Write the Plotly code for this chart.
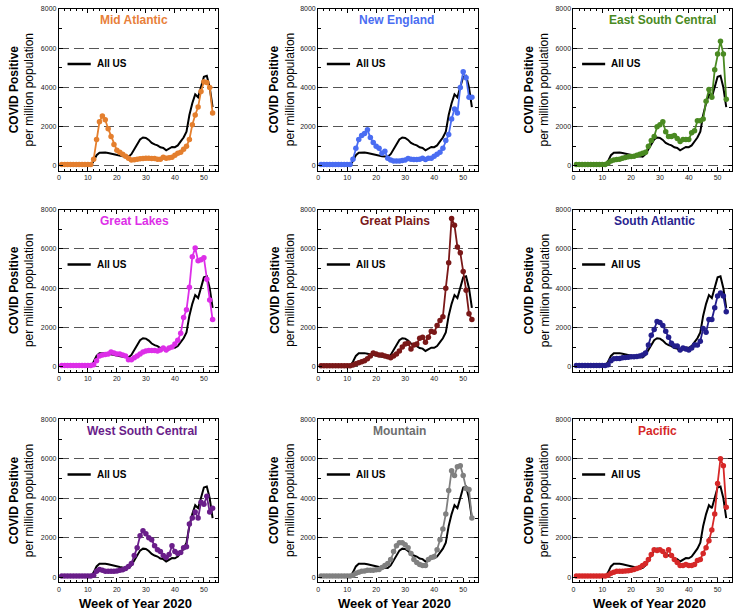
import plotly.graph_objects as go

WEEKS = list(range(1, 54))

ALL_US = [10, 10, 10, 10, 10, 10, 10, 10, 10, 10, 30, 250, 550, 680, 700, 690, 660, 620,
          580, 550, 520, 500, 490, 470, 600, 850, 1100, 1350, 1450, 1430, 1330, 1180, 1100,
          1050, 950, 920, 800, 900, 970, 960, 1050, 1250, 1450, 1750, 2600, 3200, 3650,
          3500, 4000, 4550, 4600, 4000, 3000]

MID_ATLANTIC = [80, 80, 80, 80, 80, 80, 80, 80, 80, 80, 80, 350, 1350, 2250, 2550, 2350,
                1900, 1500, 1100, 800, 700, 600, 500, 400, 300, 320, 350, 370, 380, 400, 400,
                380, 380, 340, 350, 450, 400, 420, 450, 550, 650, 700, 850, 1000, 1350, 2100,
                2600, 3000, 3800, 4290, 4250, 4000, 2700]
NEW_ENGLAND = [80, 80, 80, 80, 80, 80, 80, 80, 80, 80, 80, 350, 900, 1350, 1550, 1650, 1850,
               1450, 1200, 1000, 900, 650, 750, 400, 300, 250, 250, 250, 280, 300, 380, 350,
               330, 330, 350, 400, 330, 400, 400, 500, 600, 700, 900, 1300, 1600, 2400, 2900,
               2700, 4000, 4800, 4500, 3500, 3500]
EAST_SOUTH_CENTRAL = [80, 80, 80, 80, 80, 80, 80, 80, 80, 80, 80, 150, 250, 300, 330, 350,
                      400, 430, 470, 480, 500, 550, 600, 650, 700, 1000, 1300, 1500, 2000, 2100,
                      2250, 1750, 1500, 1500, 1550, 1400, 1250, 1350, 1350, 1350, 1700, 1800,
                      2300, 2300, 2400, 3300, 3900, 3500, 4900, 5700, 6350, 5700, 3400]
GREAT_LAKES = [60, 60, 60, 60, 60, 60, 60, 60, 60, 60, 60, 100, 300, 550, 600, 620, 650, 750,
               700, 650, 650, 600, 550, 350, 350, 450, 550, 650, 750, 800, 820, 830, 820, 800,
               850, 950, 850, 950, 1000, 1150, 1350, 1700, 2500, 2900, 4050, 5600, 6050, 5400,
               5450, 5550, 4450, 3400, 2400]
GREAT_PLAINS = [50, 50, 50, 50, 50, 50, 50, 50, 50, 50, 50, 80, 150, 200, 250, 300, 400, 550,
                700, 650, 600, 600, 550, 500, 450, 550, 650, 800, 1000, 1150, 1200, 900, 1100,
                1150, 1450, 1500, 1250, 1500, 1800, 1750, 2100, 2350, 2550, 4000, 5300, 7550,
                7200, 6100, 5800, 4850, 3900, 2700, 2400]
SOUTH_ATLANTIC = [60, 60, 60, 60, 60, 60, 60, 60, 60, 60, 60, 100, 300, 400, 420, 420, 450,
                  470, 480, 500, 500, 520, 550, 600, 700, 1100, 1600, 1900, 2300, 2250, 2100,
                  1800, 1500, 1200, 1050, 1050, 850, 950, 900, 850, 950, 1100, 1100, 1300, 1950,
                  1750, 2400, 2400, 3000, 3600, 3750, 3600, 2800]
WEST_SOUTH_CENTRAL = [60, 60, 60, 60, 60, 60, 60, 60, 60, 60, 60, 100, 300, 400, 350, 300,
                      300, 300, 300, 320, 350, 380, 450, 550, 700, 1100, 1500, 2100, 2350, 2200,
                      2000, 1900, 1600, 1400, 1300, 1100, 1000, 1150, 1600, 1300, 1200, 1250,
                      1500, 1550, 2700, 3000, 3300, 3000, 3800, 3700, 4100, 3300, 3500]
MOUNTAIN = [60, 60, 60, 60, 60, 60, 60, 60, 60, 60, 60, 100, 200, 250, 300, 320, 350, 350, 350,
            380, 400, 500, 600, 700, 900, 1300, 1600, 1750, 1750, 1650, 1500, 1200, 900, 750,
            650, 600, 600, 900, 1000, 1050, 1400, 1900, 2450, 3200, 4400, 5400, 5150, 5600,
            5650, 5150, 4500, 4450, 3000]
PACIFIC = [60, 60, 60, 60, 60, 60, 60, 60, 60, 60, 60, 100, 200, 250, 300, 300, 300, 320, 330,
           350, 400, 450, 500, 600, 700, 900, 1150, 1400, 1350, 1400, 1300, 1100, 1400, 1100,
           900, 750, 600, 600, 650, 600, 600, 650, 850, 900, 1200, 1500, 1850, 2400, 3200,
           4750, 6000, 5650, 3550]

REGIONS = ["Mid Atlantic", "New England", "East South Central",
           "Great Lakes", "Great Plains", "South Atlantic",
           "West South Central", "Mountain", "Pacific"]
REGION_VALUES = [MID_ATLANTIC, NEW_ENGLAND, EAST_SOUTH_CENTRAL,
                 GREAT_LAKES, GREAT_PLAINS, SOUTH_ATLANTIC,
                 WEST_SOUTH_CENTRAL, MOUNTAIN, PACIFIC]
REGION_COLORS = ["#E47F2E", "#4A6DF2", "#4A8A22",
                 "#DD2EE8", "#7A1818", "#231E8C",
                 "#6A1E8A", "#808080", "#D62828"]
TITLE_COLORS = ["#E8803A", "#4A6DF2", "#4A8A22",
                "#DD2EE8", "#7A1818", "#2A248F",
                "#6A1E8A", "#6E6E6E", "#D62828"]
TITLE_X = [26, 27, 31, 26, 26.5, 28, 28.5, 28, 29]

W, H = 738, 615
COL_PX = [(57, 217), (317, 477), (573, 732)]
ROW_PX = [(5, 168), (207, 370), (418, 582)]
YTITLE_PX = [19.5, 281, 536]
FONT = "Liberation Sans, Arial, sans-serif"

fig = go.Figure()
layout = {}
annotations = []
shapes = []

for i, (name, vals, color) in enumerate(zip(REGIONS, REGION_VALUES, REGION_COLORS)):
    r, c = divmod(i, 3)
    n = "" if i == 0 else str(i + 1)
    xa, ya = "x" + n, "y" + n

    fig.add_trace(go.Scatter(
        x=WEEKS, y=ALL_US, xaxis=xa, yaxis=ya, mode="lines",
        line=dict(color="black", width=2), showlegend=False, name="All US",
    ))
    fig.add_trace(go.Scatter(
        x=WEEKS, y=vals, xaxis=xa, yaxis=ya, mode="lines+markers",
        line=dict(color=color, width=1.8), marker=dict(size=5.5, color=color),
        showlegend=False, name=name,
    ))

    x0, x1 = COL_PX[c]
    y0, y1 = ROW_PX[r]
    layout["xaxis" + n] = dict(
        domain=[x0 / W, x1 / W], anchor=ya, range=[0, 55],
        tickvals=[0, 10, 20, 30, 40, 50], ticks="inside", ticklen=4,
        showticklabels=(name != "South Atlantic"),
        minor=dict(dtick=2, ticks="inside", ticklen=2, tickcolor="black"),
        showgrid=False, zeroline=False, showline=True, mirror="ticks",
        linecolor="black", linewidth=1, tickcolor="black",
        tickfont=dict(size=7, color="#222", family=FONT),
    )
    layout["yaxis" + n] = dict(
        domain=[1 - y1 / H, 1 - y0 / H], anchor=xa, range=[-250, 8000],
        tickvals=[0, 2000, 4000, 6000, 8000], ticks="inside", ticklen=4,
        minor=dict(dtick=1000, ticks="inside", ticklen=3, tickcolor="black", showgrid=False),
        showgrid=True, gridcolor="#555", griddash="10px,5px", gridwidth=1,
        zeroline=False, showline=True, mirror="ticks",
        linecolor="black", linewidth=1, tickcolor="black",
        tickfont=dict(size=7, color="#222", family=FONT),
    )

    annotations.append(dict(
        xref=xa, yref=ya, x=TITLE_X[i], y=7420, text=f"<b>{name}</b>",
        showarrow=False, font=dict(size=12, color=TITLE_COLORS[i], family=FONT),
    ))
    shapes.append(dict(
        type="line", xref=xa, yref=ya, x0=3, x1=11, y0=5200, y1=5200,
        line=dict(color="black", width=2.5),
    ))
    annotations.append(dict(
        xref=xa, yref=ya, x=12.5, y=5200, text="<b>All US</b>", xanchor="left",
        showarrow=False, font=dict(size=10, color="black", family=FONT),
    ))
    annotations.append(dict(
        xref="paper", yref="paper", x=YTITLE_PX[c] / W, y=1 - (y0 + y1) / 2 / H,
        text="<b>COVID Positive</b><br>per million population", textangle=-90,
        showarrow=False, xanchor="center", yanchor="middle",
        font=dict(size=12, color="black", family=FONT),
    ))
    if r == 2:
        annotations.append(dict(
            xref="paper", yref="paper", x=(x0 + x1) / 2 / W - 0.004, y=1 - 603 / H,
            text="<b>Week of Year 2020</b>", showarrow=False,
            xanchor="center", yanchor="middle",
            font=dict(size=13, color="black", family=FONT),
        ))

fig.update_layout(
    width=W, height=H,
    margin=dict(l=0, r=0, t=0, b=0),
    paper_bgcolor="white", plot_bgcolor="white",
    font=dict(family=FONT),
    annotations=annotations, shapes=shapes,
    **layout,
)
fig.write_html(
    "out.html",
    config={"displayModeBar": False},
    post_script="document.body.style.margin='0';document.body.style.overflow='hidden';",
)
